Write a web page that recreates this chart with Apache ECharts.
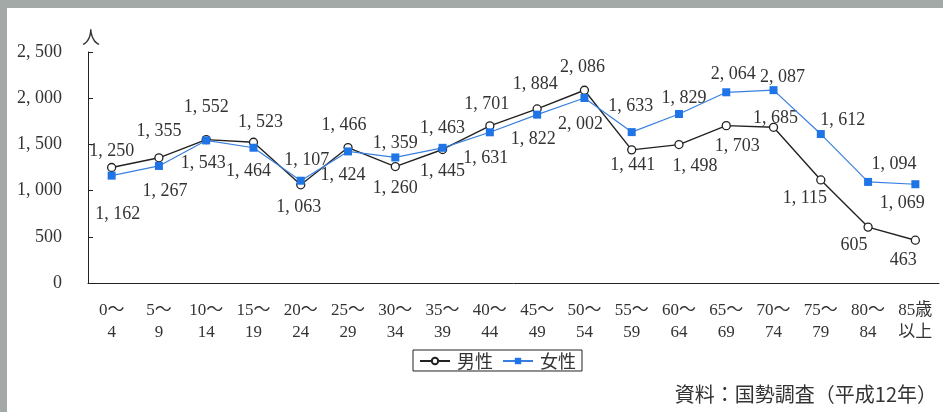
<!DOCTYPE html>
<html>
<head>
<meta charset="utf-8">
<script src="https://cdn.jsdelivr.net/npm/echarts@6/dist/echarts.min.js"></script>
<style>
  html, body { margin: 0; padding: 0; background: #fff; }
  #chart { width: 943px; height: 412px; }
</style>
</head>
<body>
<div id="chart"></div>
<script>
// Population by five-year age group, men and women
const categories = ['0～\n4', '5～\n9', '10～\n14', '15～\n19', '20～\n24', '25～\n29', '30～\n34', '35～\n39',
  '40～\n44', '45～\n49', '50～\n54', '55～\n59', '60～\n64', '65～\n69', '70～\n74', '75～\n79', '80～\n84', '85歳\n以上'];
const male = [1250, 1355, 1552, 1523, 1063, 1466, 1260, 1445, 1701, 1884, 2086, 1441, 1498, 1703, 1685, 1115, 605, 463];
const female = [1162, 1267, 1543, 1464, 1107, 1424, 1359, 1463, 1631, 1822, 2002, 1633, 1829, 2064, 2087, 1612, 1094, 1069];
const yTicks = [0, 500, 1000, 1500, 2000, 2500];
const seriesNames = ['男性', '女性'];
const unitName = '人';
const sourceNote = '資料：国勢調査（平成12年）';

// Where each value label sits relative to its marker
const maleLabelOffsets = [[0, -16], [0, -27], [0, -32], [7, -20], [-2, 22], [-4, -22], [0, 22], [0, 22], [-3, -22],
  [-2, -25], [-2, -23], [1, 15], [16, 22], [11, 21], [2, -9], [-16, 18], [-14, 18], [-12, 20]];
const femaleLabelOffsets = [[6, 39], [6, 25], [-3, 23], [-5, 24], [6, -20], [-5, 24], [0, -14], [0, -20], [-4, 26],
  [-4, 25], [-4, 26], [-1, -26], [5, -16], [7, -18], [9, -13], [22, -14], [26, -18], [-13, 19]];

const SERIF = "'Liberation Serif', 'Noto Sans CJK JP', serif";
const fmt = v => v >= 1000 ? Math.floor(v / 1000) + ', ' + String(v % 1000).padStart(3, '0') : String(v);

function withLabels(values, offsets) {
  return values.map((v, i) => ({
    value: v,
    label: { offset: offsets[i] }
  }));
}

const chart = echarts.init(document.getElementById('chart'), null, { renderer: 'canvas' });
chart.setOption({
  backgroundColor: '#ffffff',
  animation: false,
  textStyle: { fontFamily: SERIF, color: '#333' },
  graphic: [
    { type: 'rect', shape: { x: 0, y: 0, width: 943, height: 8 }, style: { fill: '#a3a9a7' }, z: 100 },
    { type: 'rect', shape: { x: 0, y: 0, width: 7, height: 412 }, style: { fill: '#a3a9a7' }, z: 100 },
    {
      type: 'text', right: 6, top: 384,
      style: { text: sourceNote, font: "20px 'Noto Sans CJK JP'", fill: '#333' }
    }
  ],
  grid: { left: 88, right: 4, top: 52, bottom: 129, containLabel: false },
  legend: {
    data: seriesNames,
    left: 413, top: 350,
    padding: [2, 6, 1, 6],
    itemGap: 9,
    itemWidth: 30, itemHeight: 8,
    borderColor: '#222', borderWidth: 1,
    textStyle: { fontFamily: "'Noto Sans CJK JP'", fontSize: 18, color: '#333', padding: [0, 0, 0, 2] }
  },
  xAxis: {
    type: 'category',
    data: categories,
    boundaryGap: true,
    axisLine: { lineStyle: { color: '#222', width: 1 } },
    axisTick: { inside: true, length: 6, lineStyle: { color: '#222' } },
    axisLabel: {
      interval: 0, margin: 17, fontSize: 17, lineHeight: 22, color: '#333',
      fontFamily: SERIF
    }
  },
  yAxis: {
    type: 'value',
    min: yTicks[0], max: yTicks[yTicks.length - 1], interval: 500,
    name: unitName,
    nameLocation: 'end',
    nameGap: 6,
    nameTextStyle: { fontFamily: "'Noto Sans CJK JP'", fontSize: 18, color: '#333', padding: [0, 0, 0, 6] },
    axisLine: { show: true, lineStyle: { color: '#222', width: 1 } },
    axisTick: { show: true, inside: true, length: 5, lineStyle: { color: '#222' } },
    splitLine: { show: false },
    axisLabel: { margin: 26, fontSize: 18, color: '#333', formatter: fmt }
  },
  series: [
    {
      name: seriesNames[0],
      type: 'line',
      data: withLabels(male, maleLabelOffsets),
      symbol: 'circle',
      symbolSize: 8,
      lineStyle: { color: '#222', width: 1.4 },
      itemStyle: { color: '#fff', borderColor: '#222', borderWidth: 1.3 },
      label: {
        show: true, position: 'inside', fontSize: 18, color: '#333', fontFamily: SERIF,
        formatter: p => fmt(p.value)
      },
      z: 2
    },
    {
      name: seriesNames[1],
      type: 'line',
      data: withLabels(female, femaleLabelOffsets),
      symbol: 'rect',
      symbolSize: 8,
      lineStyle: { color: '#3a7fe0', width: 1.2 },
      itemStyle: { color: '#1f74e6' },
      label: {
        show: true, position: 'inside', fontSize: 18, color: '#333', fontFamily: SERIF,
        formatter: p => fmt(p.value)
      },
      z: 3
    }
  ]
});
</script>
</body>
</html>
